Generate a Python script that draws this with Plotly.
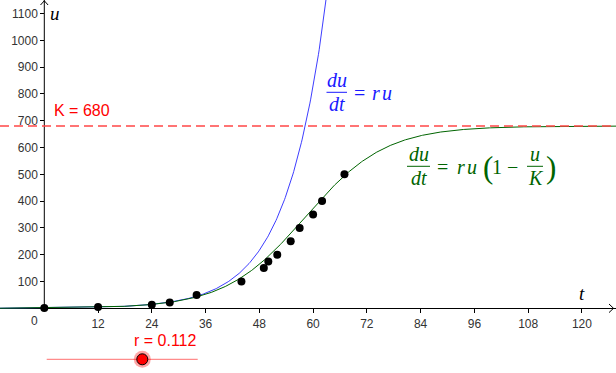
import numpy as np
import plotly.graph_objects as go

# ---- data ----
t_obs = [0, 12, 24, 28, 34, 44, 49, 50, 52, 55, 57, 60, 62, 67]
u_obs = [1, 5, 13, 22, 50, 100, 150, 175, 200, 250, 300, 350, 400, 500]
r = 0.112
K = 680
u0 = 1.0
x_ticks = [12, 24, 36, 48, 60, 72, 84, 96, 108, 120]
y_ticks = [100, 200, 300, 400, 500, 600, 700, 800, 900, 1000, 1100]

W, H = 616, 373
X_RANGE = [-9.888, 127.61]
Y_RANGE = [-241.4, 1150.4]


def px(x):
    return x / W


def py(y):
    return 1 - y / H


t = np.linspace(X_RANGE[0], X_RANGE[1], 800)
u_exp = u0 * np.exp(r * t)
u_log = K / (1 + (K - u0) / u0 * np.exp(-r * t))

BLUE = "#1a1aff"
GREEN = "#006400"
RED = "#ff0000"

fig = go.Figure()
fig.add_trace(go.Scatter(x=t, y=u_exp, mode="lines",
                         line=dict(color="rgba(40,40,255,0.9)", width=1), hoverinfo="skip"))
fig.add_trace(go.Scatter(x=t, y=u_log, mode="lines",
                         line=dict(color=GREEN, width=1), hoverinfo="skip"))
fig.add_trace(go.Scatter(x=t_obs, y=u_obs, mode="markers",
                         marker=dict(color="black", size=8), hoverinfo="skip"))

shapes = []
# y axis line from u=0 upward
shapes.append(dict(type="line", xref="x", yref="y", x0=0, x1=0, y0=0, y1=Y_RANGE[1],
                   line=dict(color="black", width=1)))
# arrow heads
shapes.append(dict(type="path", xref="paper", yref="paper",
                   path=f"M {px(40.5)},{py(5)} L {px(44.3)},{py(0.8)} L {px(48.1)},{py(5)}",
                   line=dict(color="black", width=1)))
shapes.append(dict(type="path", xref="paper", yref="paper",
                   path=f"M {px(609)},{py(304)} L {px(613.5)},{py(308.3)} L {px(609)},{py(312.6)}",
                   line=dict(color="black", width=1)))
# carrying capacity
shapes.append(dict(type="line", xref="paper", yref="y", x0=0, x1=1, y0=K, y1=K,
                   line=dict(color="rgba(255,70,70,0.75)", width=2, dash="9px,5px")))
# fraction bars
shapes.append(dict(type="line", xref="paper", yref="paper", x0=px(326.5), x1=px(347), y0=py(92.3), y1=py(92.3),
                   line=dict(color=BLUE, width=1)))
shapes.append(dict(type="line", xref="paper", yref="paper", x0=px(407), x1=px(430), y0=py(166.3), y1=py(166.3),
                   line=dict(color=GREEN, width=1)))
shapes.append(dict(type="line", xref="paper", yref="paper", x0=px(527), x1=px(543), y0=py(166.3), y1=py(166.3),
                   line=dict(color=GREEN, width=1)))
# slider
shapes.append(dict(type="line", xref="paper", yref="paper", x0=px(46.7), x1=px(197.7), y0=py(359.3), y1=py(359.3),
                   line=dict(color="rgba(255,0,0,0.45)", width=1.2)))
shapes.append(dict(type="circle", xref="paper", yref="paper", x0=px(142.3 - 8.5), x1=px(142.3 + 8.5),
                   y0=py(359.3 + 8.5), y1=py(359.3 - 8.5),
                   fillcolor="rgba(255,0,0,0.35)", line=dict(width=0)))
shapes.append(dict(type="circle", xref="paper", yref="paper", x0=px(142.3 - 5.5), x1=px(142.3 + 5.5),
                   y0=py(359.3 + 5.5), y1=py(359.3 - 5.5),
                   fillcolor=RED, line=dict(color="black", width=1)))

SERIF = "Liberation Serif"
SANS = "Liberation Sans"


def ann(x, y, text, color, size, family=SERIF, xanchor="center"):
    return dict(x=px(x), y=py(y), xref="paper", yref="paper", text=text, showarrow=False,
                xanchor=xanchor, yanchor="middle", font=dict(color=color, size=size, family=family))


FS = 20
annotations = [
    ann(55, 13, "<i>u</i>", "black", 19),
    ann(582, 293, "<i>t</i>", "black", 19),
    ann(34, 321, "0", "#333333", 12, SANS),
    ann(52, 110.5, "K = 680", RED, 16, SANS, "left"),
    ann(165, 340.5, "r = 0.112", RED, 16, SANS),
    # blue equation
    ann(336.8, 80, "<i>du</i>", BLUE, FS),
    ann(336.8, 103.5, "<i>dt</i>", BLUE, FS),
    ann(359.2, 92.5, "=", BLUE, FS),
    ann(376, 92.5, "<i>r</i>", BLUE, FS),
    ann(386.5, 92.5, "<i>u</i>", BLUE, FS),
    # green equation
    ann(418.5, 154, "<i>du</i>", GREEN, FS),
    ann(418.5, 177.5, "<i>dt</i>", GREEN, FS),
    ann(443, 166.5, "=", GREEN, FS),
    ann(461, 166.5, "<i>r</i>", GREEN, FS),
    ann(471.5, 166.5, "<i>u</i>", GREEN, FS),
    ann(487.5, 167, "(", GREEN, 31),
    ann(497, 166.5, "1", GREEN, FS),
    ann(512, 166.5, "\u2212", GREEN, FS),
    ann(535, 154, "<i>u</i>", GREEN, FS),
    ann(535.5, 177.5, "<i>K</i>", GREEN, FS),
    ann(550.5, 167, ")", GREEN, 31),
]

fig.update_layout(
    width=W, height=H, margin=dict(l=0, r=0, t=0, b=0),
    paper_bgcolor="white", plot_bgcolor="white", showlegend=False,
    shapes=shapes, annotations=annotations,
    xaxis=dict(range=X_RANGE, tickvals=x_ticks, ticktext=[str(v) for v in x_ticks],
               ticks="outside", ticklen=4, tickcolor="black", tickwidth=1,
               showgrid=False, zeroline=False, showline=False,
               anchor="free", position=py(308.3),
               tickfont=dict(family=SANS, size=12, color="#333333"), fixedrange=True),
    yaxis=dict(range=Y_RANGE, tickvals=y_ticks, ticktext=[str(v) for v in y_ticks],
               ticks="outside", ticklen=4, tickcolor="black", tickwidth=1,
               showgrid=False, zeroline=True, zerolinecolor="black", zerolinewidth=1,
               showline=False, anchor="free", position=px(44.3),
               tickfont=dict(family=SANS, size=12, color="#333333"), fixedrange=True),
)

fig.write_html("out.html")
